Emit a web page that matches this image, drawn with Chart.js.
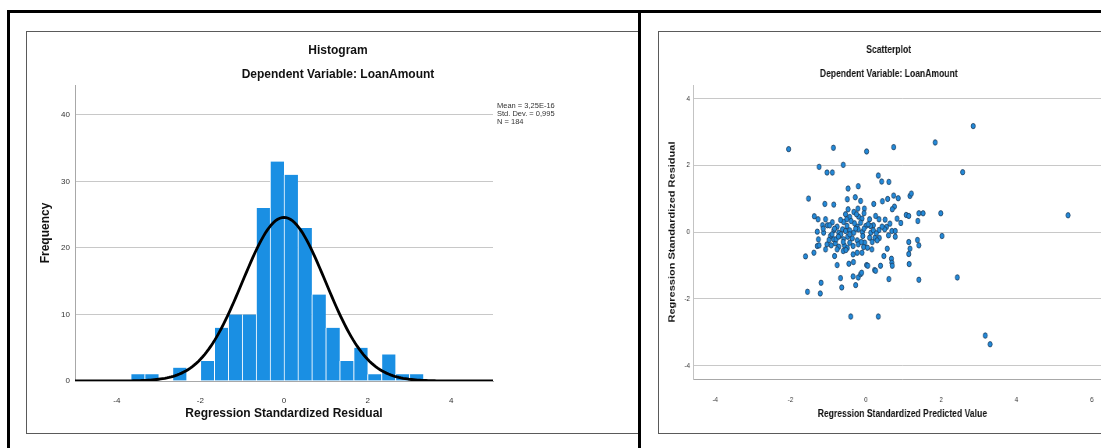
<!DOCTYPE html>
<html>
<head>
<meta charset="utf-8">
<title>Regression residual diagnostics – LoanAmount</title>
<script src="https://cdn.jsdelivr.net/npm/chart.js@4.4.1/dist/chart.umd.min.js"></script>
<style>
  html, body { margin: 0; padding: 0; background: #fff; }
  #page { position: relative; width: 1101px; height: 448px; overflow: hidden; background: #fff; }
  .panel { position: absolute; box-sizing: border-box; border: 1.5px solid #5a5a5a; }
  .rule { position: absolute; background: #000; }
  canvas { position: absolute; display: block; }
</style>
</head>
<body>
<div id="page">
  <div class="panel" style="left:26px; top:31px; width:614px; height:403px; border-right:none;"></div>
  <div class="panel" style="left:658px; top:31px; width:480px; height:403px;"></div>
  <canvas id="hist" width="622" height="400" style="left:27px; top:32px;"></canvas>
  <canvas id="scatter" width="589" height="400" style="left:659px; top:32px; transform:scaleX(0.78); transform-origin:0 0;"></canvas>
  <div class="rule" style="left:7px; top:10px; width:1094px; height:3px;"></div>
  <div class="rule" style="left:7px; top:10px; width:3px; height:438px;"></div>
  <div class="rule" style="left:638px; top:10px; width:3px; height:438px;"></div>
</div>
<script>
// ---- Histogram of standardized residuals (bins of width 1/3) ----
const binCenters = [-3.5, -3.1667, -2.8333, -2.5, -2.1667, -1.8333, -1.5, -1.1667, -0.8333, -0.5, -0.1667,
                    0.1667, 0.5, 0.8333, 1.1667, 1.5, 1.8333, 2.1667, 2.5, 2.8333, 3.1667];
const binCounts  = [1, 1, 0, 2, 0, 3, 8, 10, 10, 26, 33, 31, 23, 13, 8, 3, 5, 1, 4, 1, 1];
const histXTicks = [-4, -2, 0, 2, 4];
const histYTicks = [0, 10, 20, 30, 40];

// Summary statistics printed beside the histogram
const MEAN = 3.25e-16;
const SD = 0.995;
const N = 184;
const BIN_WIDTH = 1 / 3;
const statsLines = ['Mean = 3,25E-16', 'Std. Dev. = 0,995', 'N = 184'];

// ---- Scatterplot: standardized predicted value vs standardized residual ----
const predicted = [
  -2.05,-0.86,0.02,0.74,1.84,2.85,2.57,-1.24,-0.60,-1.03,
  -0.89,0.33,0.42,0.61,-0.20,-0.47,-1.52,-0.49,-0.28,-0.14,
  0.74,0.86,1.17,1.21,0.58,0.44,0.21,-1.09,-0.85,0.76,
  0.70,-0.21,-0.04,-0.47,-0.32,-1.37,-1.27,1.07,1.14,1.41,
  1.52,1.99,-0.19,-0.10,-0.43,1.38,0.93,0.64,-0.51,-0.59,
  0.10,0.20,-0.89,-1.02,-1.15,0.35,0.51,-0.23,0.00,0.12,
  0.55,-0.50,-0.76,-0.62,-1.29,-1.12,-0.85,-0.72,-0.43,-0.32,
  -0.20,-0.09,0.13,0.35,0.50,0.69,0.78,0.60,0.78,2.02,
  -1.26,-0.94,-0.85,-0.70,-0.59,-0.48,-0.36,-0.23,-0.08,0.10,
  0.24,0.36,-0.03,1.14,1.37,1.41,-1.29,-1.24,-1.03,-0.92,
  -0.81,-0.72,-0.57,-0.49,-0.34,-0.20,-0.06,0.17,0.30,-1.38,
  -1.60,-1.07,-0.83,-0.60,-0.53,-0.34,-0.23,-0.10,0.16,0.48,
  0.57,0.68,0.69,0.70,1.17,1.14,1.15,-0.76,-0.45,-0.33,
  0.02,0.05,0.23,0.26,0.39,-0.67,-0.34,-0.20,-0.14,-0.11,
  0.61,1.41,2.43,-1.19,-1.55,-1.21,-0.64,-0.27,-0.40,0.33,
  3.17,3.30,5.37,
  -0.96,-0.83,-0.90,-0.79,-0.66,-0.54,-0.43,-0.27,-0.14,-0.05,
  0.06,0.20,0.28,-0.30,-0.39,-0.25,-0.05,-0.54,-0.73,-0.60,
  -0.43,-0.12,0.04,-1.13,-0.98,-0.76,0.83,0.43,0.26,-0.67,-1.07
];
const residual = [
  2.48,2.52,2.41,2.54,2.68,3.17,1.79,1.95,2.01,1.78,
  1.78,1.69,1.51,1.50,1.37,1.30,1.00,0.98,1.04,0.93,
  1.09,1.01,1.08,1.15,0.99,0.92,0.84,0.84,0.82,0.76,
  0.68,0.70,0.70,0.68,0.60,0.47,0.38,0.51,0.48,0.56,
  0.56,0.56,0.46,0.40,0.45,0.33,0.27,0.25,0.38,0.30,
  0.38,0.20,0.29,0.20,0.20,0.38,0.37,0.16,0.18,0.18,
  0.15,0.18,0.16,0.08,0.01,-0.02,0.05,-0.02,0.05,-0.02,
  0.08,0.00,-0.02,0.06,0.08,0.03,0.03,-0.10,-0.14,-0.12,
  -0.22,-0.12,-0.22,-0.12,-0.22,-0.14,-0.19,-0.25,-0.12,-0.17,
  -0.17,-0.18,-0.32,-0.30,-0.24,-0.40,-0.42,-0.40,-0.37,-0.40,
  -0.34,-0.44,-0.40,-0.48,-0.42,-0.37,-0.45,-0.30,-0.25,-0.62,
  -0.73,-0.52,-0.72,-0.57,-0.54,-0.67,-0.62,-0.62,-0.52,-0.72,
  -0.50,-0.80,-0.92,-1.01,-0.50,-0.66,-0.96,-0.99,-0.95,-0.90,
  -0.99,-1.01,-1.14,-1.16,-1.01,-1.38,-1.33,-1.36,-1.26,-1.22,
  -1.41,-1.43,-1.36,-1.52,-1.79,-1.84,-1.66,-1.59,-2.53,-2.53,
  -3.10,-3.36,0.50,
  0.20,0.10,-0.07,-0.22,-0.07,0.03,-0.07,0.10,0.28,0.10,
  0.23,0.05,-0.04,0.26,0.33,0.53,0.56,0.53,-0.14,-0.30,
  -0.32,-0.30,-0.47,0.10,-0.24,-0.52,0.40,0.16,0.48,0.36,0.38
];
const scatterXTicks = [-4, -2, 0, 2, 4, 6];
const scatterYTicks = [-4, -2, 0, 2, 4];

// ---- Shared styling ----
const FONT = "'Liberation Sans', Arial, Helvetica, sans-serif";
Chart.defaults.font.family = FONT;
Chart.defaults.color = '#333';
Chart.defaults.animation = false;

const TEXT = '#111';
const GRID = '#c8c8c8';
const AXIS = '#a8a8a8';
const TICK_FONT = { size: 8 };

const fixedTicks = list => scale => { scale.ticks = list.map(v => ({ value: v })); };

// Normal curve scaled to histogram counts, from the stated mean, SD and N
const curve = [];
for (let i = 0; i <= 200; i++) {
  const x = -5 + i * 0.05;
  const z = (x - MEAN) / SD;
  curve.push({ x, y: N * BIN_WIDTH * Math.exp(-0.5 * z * z) / (SD * Math.sqrt(2 * Math.PI)) });
}

const statsPlugin = {
  id: 'statsText',
  afterDraw(chart) {
    const { ctx, chartArea } = chart;
    ctx.save();
    ctx.font = '7.5px ' + FONT;
    ctx.fillStyle = '#333';
    ctx.textBaseline = 'middle';
    ctx.textAlign = 'left';
    statsLines.forEach((t, i) => ctx.fillText(t, chartArea.right + 4, chartArea.top + 20.7 + i * 8.3));
    ctx.restore();
  }
};

new Chart(document.getElementById('hist'), {
  type: 'bar',
  data: {
    datasets: [
      {
        type: 'line',
        data: curve,
        borderColor: '#000',
        borderWidth: 2.8,
        pointRadius: 0,
        tension: 0,
        order: 0
      },
      {
        type: 'bar',
        data: binCenters.map((c, i) => ({ x: c, y: binCounts[i] })),
        backgroundColor: '#1a8fe3',
        borderColor: '#ffffff',
        borderWidth: { left: 1, right: 0, top: 0, bottom: 0 },
        borderSkipped: false,
        barPercentage: 1,
        categoryPercentage: 1,
        order: 1
      }
    ]
  },
  options: {
    responsive: false,
    animation: false,
    events: [],
    layout: { padding: 0 },
    plugins: {
      legend: { display: false },
      tooltip: { enabled: false },
      title: { display: true, text: 'Histogram', color: TEXT, font: { size: 12, weight: 'bold' }, padding: { top: 11, bottom: 9.6 } },
      subtitle: { display: true, text: 'Dependent Variable: LoanAmount', color: TEXT, font: { size: 12, weight: 'bold' }, padding: { top: 0, bottom: 3.6 } }
    },
    scales: {
      x: {
        type: 'linear', min: -5, max: 5, offset: false,
        afterBuildTicks: fixedTicks(histXTicks),
        afterFit: s => { s.height = 51; },
        grid: { display: false, offset: false },
        border: { display: true, color: AXIS },
        ticks: { padding: 6.5, font: TICK_FONT, color: '#333' },
        title: { display: true, text: 'Regression Standardized Residual', color: TEXT, font: { size: 12, weight: 'bold' }, padding: { top: 0, bottom: 11 } }
      },
      y: {
        type: 'linear', min: 0, max: 44.5,
        afterBuildTicks: fixedTicks(histYTicks),
        afterFit: s => { s.width = 48; },
        grid: { color: c => (c.tick && c.tick.value === 0 ? 'rgba(0,0,0,0)' : GRID), drawTicks: false },
        border: { color: AXIS },
        ticks: { padding: 5, font: TICK_FONT, color: '#333' },
        title: { display: true, text: 'Frequency', color: TEXT, font: { size: 12, weight: 'bold' }, padding: { top: 11, bottom: 0 } }
      },
      side: {
        type: 'linear', position: 'right',
        afterFit: s => { s.width = 156; },
        grid: { display: false }, border: { display: false }, ticks: { display: false }
      }
    }
  },
  plugins: [statsPlugin]
});

new Chart(document.getElementById('scatter'), {
  type: 'scatter',
  data: {
    datasets: [{
      data: predicted.map((x, i) => ({ x, y: residual[i] })),
      backgroundColor: '#2389d8',
      borderColor: '#1a3756',
      borderWidth: 0.8,
      pointRadius: 2.7
    }]
  },
  options: {
    responsive: false,
    animation: false,
    events: [],
    layout: { padding: 0 },
    plugins: {
      legend: { display: false },
      tooltip: { enabled: false },
      title: { display: true, text: 'Scatterplot', color: TEXT, font: { size: 11, weight: 'bold' }, padding: { top: 11.4, bottom: 10.8 } },
      subtitle: { display: true, text: 'Dependent Variable: LoanAmount', color: TEXT, font: { size: 11, weight: 'bold' }, padding: { top: 0, bottom: 4.4 } }
    },
    scales: {
      x: {
        type: 'linear', min: -4.58, max: 6.52,
        afterBuildTicks: fixedTicks(scatterXTicks),
        afterFit: s => { s.height = 53; },
        grid: { display: false },
        border: { display: true, color: AXIS },
        ticks: { padding: 7.5, font: TICK_FONT, color: '#333' },
        title: { display: true, text: 'Regression Standardized Predicted Value', color: TEXT, font: { size: 11, weight: 'bold' }, padding: { top: 0, bottom: 11.4 } }
      },
      y: {
        type: 'linear', min: -4.4, max: 4.4,
        afterBuildTicks: fixedTicks(scatterYTicks),
        afterFit: s => { s.width = 44; },
        grid: { color: GRID, drawTicks: false },
        border: { color: AXIS },
        ticks: { padding: 4.3, font: TICK_FONT, color: '#333' },
        title: { display: true, text: 'Regression Standardized Residual', color: TEXT, font: { size: 11, weight: 'bold' }, padding: { top: 10.1, bottom: 0 } }
      },
      side: {
        type: 'linear', position: 'right',
        afterFit: s => { s.width = 9; },
        grid: { display: false }, border: { display: false }, ticks: { display: false }
      }
    }
  }
});
</script>
</body>
</html>
